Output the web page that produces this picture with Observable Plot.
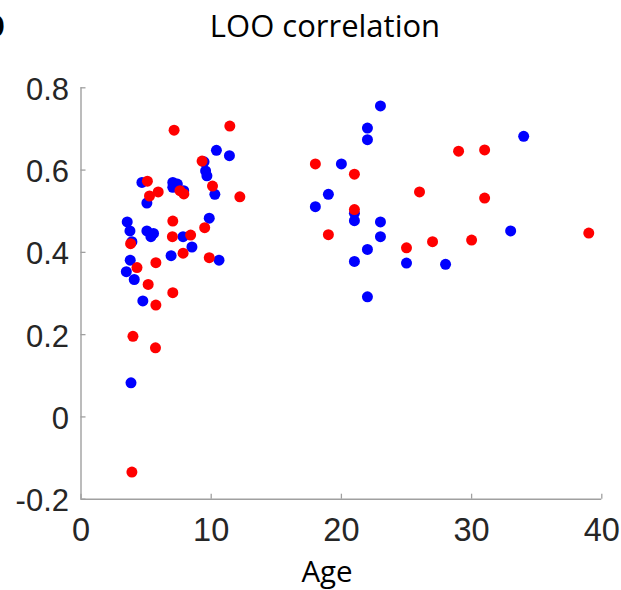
<!DOCTYPE html>
<html>
<head>
<meta charset="utf-8">
<script src="https://cdn.jsdelivr.net/npm/d3@7"></script>
<script src="https://cdn.jsdelivr.net/npm/@observablehq/plot@0.6"></script>
<style>
  html, body { margin: 0; padding: 0; background: #fff; overflow: hidden; }
  #wrap { position: relative; width: 621px; height: 590px; overflow: hidden; }
  #wrap > svg { position: absolute; left: 0; top: 0; }
  #overlay { pointer-events: none; }
</style>
</head>
<body>
<div id="wrap">
  <svg id="overlay" width="621" height="590" xmlns="http://www.w3.org/2000/svg" style="z-index:2">
    <text x="-20" y="36.7" font-family="'Open Sans'" font-weight="700" font-size="40" fill="#000">b</text>
    <text x="325" y="36.7" text-anchor="middle" font-family="'Open Sans'" font-size="31" fill="#000">LOO correlation</text>
    <text x="327" y="581.7" text-anchor="middle" font-family="'Open Sans'" font-size="29.5" fill="#000">Age</text>
  </svg>
</div>
<script>
// ---- data ----
const blueAge = [10.4, 11.4, 9.45, 9.57, 9.67, 10.28, 4.68, 5.06, 7.05, 7.4, 7.05, 7.89, 9.85, 3.55, 3.76, 5.06, 5.57, 5.37, 7.84, 8.52, 3.91, 6.92, 10.6, 3.78, 3.48, 4.09, 4.75, 3.84,
                 23, 22, 22, 34, 20, 19, 18, 21, 21, 23, 23, 22, 33, 21, 25, 28, 22];
const blueVal = [0.648, 0.635, 0.620, 0.598, 0.586, 0.541, 0.570, 0.520, 0.570, 0.566, 0.558, 0.550, 0.483, 0.474, 0.452, 0.452, 0.446, 0.438, 0.438, 0.413, 0.426, 0.392, 0.381, 0.381, 0.353, 0.334, 0.282, 0.083,
                 0.756, 0.702, 0.674, 0.682, 0.615, 0.541, 0.511, 0.495, 0.477, 0.474, 0.438, 0.407, 0.452, 0.378, 0.374, 0.371, 0.292];
const redAge = [7.15, 11.43, 9.3, 10.1, 12.2, 5.1, 5.26, 5.93, 7.6, 7.9, 7.05, 9.5, 7.02, 8.42, 3.81, 7.84, 9.85, 5.75, 4.3, 5.16, 7.05, 5.75, 3.99, 5.72, 3.91,
                29, 31, 18, 21, 26, 31, 21, 19, 25, 27, 30, 39];
const redVal = [0.697, 0.707, 0.622, 0.561, 0.535, 0.573, 0.537, 0.547, 0.550, 0.542, 0.476, 0.460, 0.438, 0.442, 0.421, 0.398, 0.387, 0.375, 0.363, 0.322, 0.302, 0.272, 0.196, 0.168, -0.134,
                0.646, 0.649, 0.615, 0.590, 0.547, 0.532, 0.504, 0.443, 0.411, 0.426, 0.430, 0.447];

const xTicks = [0, 10, 20, 30, 40];
const xTickLabels = ["0", "10", "20", "30", "40"];
const yTicks = [-0.2, 0, 0.2, 0.4, 0.6, 0.8];
const yTickLabels = ["-0.2", "0", "0.2", "0.4", "0.6", "0.8"];

const blue = blueAge.map((a, i) => ({age: a, val: blueVal[i]}));
const red = redAge.map((a, i) => ({age: a, val: redVal[i]}));

const W = 621, H = 590;
const mT = 87.3, mB = 91.3, mL = 80.5, mR = 19.7;
const plotW = W - mL - mR, plotH = H - mT - mB;
const tickLen = 5;
const axisColor = "#a0a0a0";
const textColor = "#262626";

const chart = Plot.plot({
  width: W,
  height: H,
  marginTop: mT,
  marginBottom: mB,
  marginLeft: mL,
  marginRight: mR,
  style: {fontFamily: "'Liberation Sans', Arial, sans-serif", background: "transparent", overflow: "visible"},
  x: {domain: [0, 40]},
  y: {domain: [-0.2, 0.8]},
  marks: [
    Plot.axisX(xTicks, {tickSize: 0, tickPadding: 19, fontSize: 32.5, color: textColor,
      tickFormat: d => xTickLabels[xTicks.indexOf(d)], label: null}),
    Plot.axisY(yTicks, {tickSize: 0, tickPadding: 12, fontSize: 31, color: textColor, dy: 2,
      tickFormat: d => yTickLabels[yTicks.indexOf(d)], label: null}),
    // inward tick marks
    Plot.tickX(xTicks, {x: d => d, insetTop: plotH - tickLen, stroke: axisColor, strokeWidth: 1.3}),
    Plot.tickY(yTicks, {y: d => d, insetRight: plotW - tickLen, stroke: axisColor, strokeWidth: 1.3}),
    // axis lines
    Plot.ruleX([0], {stroke: axisColor, strokeWidth: 1.4}),
    Plot.ruleY([-0.2], {stroke: axisColor, strokeWidth: 1.4}),
    Plot.dot(blue, {x: "age", y: "val", r: 5.5, fill: "#0000ff", stroke: "none"}),
    Plot.dot(red, {x: "age", y: "val", r: 5.5, fill: "#ff0000", stroke: "none"})
  ]
});
document.getElementById("wrap").insertBefore(chart, document.getElementById("overlay"));
</script>
</body>
</html>
